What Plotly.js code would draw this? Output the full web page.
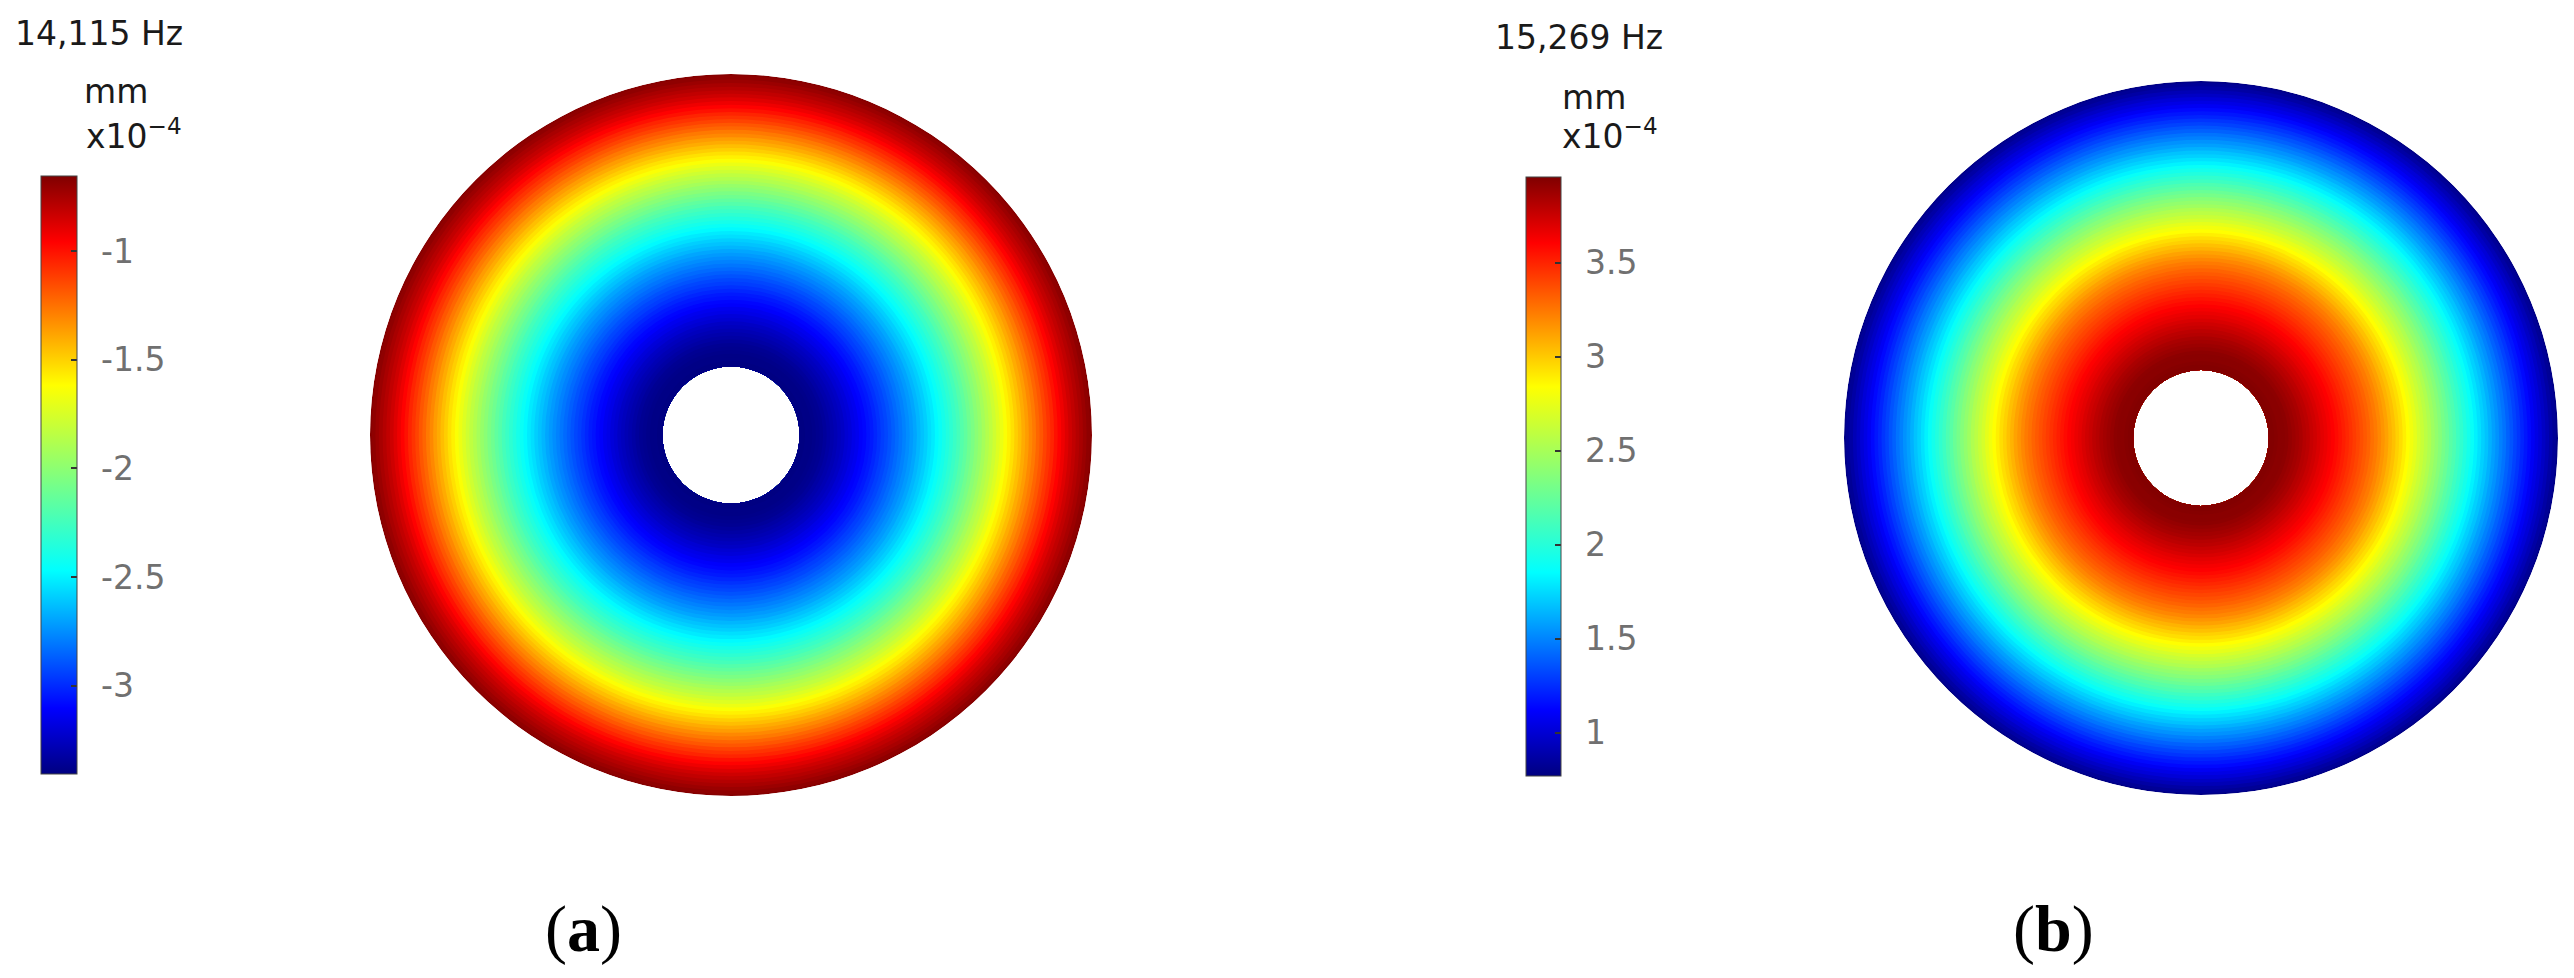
<!DOCTYPE html>
<html>
<head>
<meta charset="utf-8">
<script src="https://cdn.plot.ly/plotly-3.0.1.min.js"></script>
<style>
  html, body { margin: 0; padding: 0; background: #fff; }
  #chart { width: 2574px; height: 978px; }
</style>
</head>
<body>
<div id="chart"></div>
<script>
// Radial positions of the samples (outer edge = 10, hole edge = 1.9)
var holeRadius = 1.9;
var outerRadius = 10;
var radius = [2.0, 2.1, 2.2, 2.3, 2.4, 2.5, 2.6, 2.7, 2.8, 2.9,
              3.0, 3.1, 3.2, 3.3, 3.4, 3.5, 3.6, 3.7, 3.8, 3.9,
              4.0, 4.1, 4.2, 4.3, 4.4, 4.5, 4.6, 4.7, 4.8, 4.9,
              5.0, 5.1, 5.2, 5.3, 5.4, 5.5, 5.6, 5.7, 5.8, 5.9,
              6.0, 6.1, 6.2, 6.3, 6.4, 6.5, 6.6, 6.7, 6.8, 6.9,
              7.0, 7.1, 7.2, 7.3, 7.4, 7.5, 7.6, 7.7, 7.8, 7.9,
              8.0, 8.1, 8.2, 8.3, 8.4, 8.5, 8.6, 8.7, 8.8, 8.9,
              9.0, 9.1, 9.2, 9.3, 9.4, 9.5, 9.6, 9.7, 9.8, 9.9, 10.0];

// Displacement (mm x1e-4) read along the radius
var dispA = [-3.40, -3.39, -3.39, -3.38, -3.37, -3.36, -3.34, -3.32, -3.30, -3.28,
             -3.26, -3.24, -3.21, -3.19, -3.16, -3.14, -3.11, -3.09, -3.06, -3.04,
             -3.01, -2.98, -2.95, -2.93, -2.90, -2.87, -2.84, -2.81, -2.78, -2.75,
             -2.72, -2.69, -2.65, -2.62, -2.59, -2.55, -2.52, -2.48, -2.44, -2.40,
             -2.36, -2.32, -2.28, -2.24, -2.19, -2.15, -2.10, -2.06, -2.01, -1.97,
             -1.92, -1.87, -1.83, -1.78, -1.73, -1.68, -1.63, -1.58, -1.54, -1.49,
             -1.45, -1.40, -1.36, -1.31, -1.27, -1.22, -1.18, -1.13, -1.09, -1.05,
             -1.00, -0.96, -0.92, -0.88, -0.84, -0.81, -0.78, -0.75, -0.72, -0.69, -0.67];
var dispB = [3.95, 3.94, 3.93, 3.93, 3.92, 3.90, 3.88, 3.86, 3.84, 3.81,
             3.79, 3.76, 3.74, 3.71, 3.68, 3.66, 3.63, 3.61, 3.58, 3.55,
             3.52, 3.49, 3.46, 3.43, 3.40, 3.37, 3.34, 3.31, 3.27, 3.24,
             3.20, 3.16, 3.12, 3.07, 3.03, 2.98, 2.94, 2.89, 2.84, 2.79,
             2.74, 2.68, 2.63, 2.58, 2.53, 2.47, 2.42, 2.37, 2.31, 2.26,
             2.20, 2.15, 2.09, 2.04, 1.98, 1.93, 1.88, 1.82, 1.77, 1.72,
             1.68, 1.63, 1.58, 1.54, 1.49, 1.45, 1.40, 1.36, 1.31, 1.27,
             1.22, 1.18, 1.14, 1.09, 1.05, 1.01, 0.96, 0.92, 0.87, 0.83, 0.79];

// colour range of each legend bar
var rangeA = [-3.405, -0.655];
var rangeB = [0.77, 3.957];

var tickValsA = [-3, -2.5, -2, -1.5, -1];
var tickTextA = ['-3', '-2.5', '-2', '-1.5', '-1'];
var tickValsB = [1, 1.5, 2, 2.5, 3, 3.5];
var tickTextB = ['1', '1.5', '2', '2.5', '3', '3.5'];

var freqLabels = ['14,115 Hz', '15,269 Hz'];
var panelLabels = ['(<b>a</b>)', '(<b>b</b>)'];

var W = 2574, H = 978;

var jet = [[0, '#000080'], [0.11, '#0000ff'], [0.34, '#00ffff'],
           [0.65, '#ffff00'], [0.89, '#ff0000'], [1, '#800000']];

// One filled ring per sample; drawn outermost first, each starting at the hole,
// so the next (smaller) one covers it and no seams show.
function ringTrace(values, range, subplot, colorbar) {
    var r = [], base = [], theta = [], color = [];
    for (var i = radius.length - 1; i >= 0; i--) {
        var edge = i < radius.length - 1 ? (radius[i] + radius[i + 1]) / 2 : outerRadius;
        r.push(edge - holeRadius);
        base.push(holeRadius);
        theta.push(0);
        color.push(values[i]);
    }
    return {
        type: 'barpolar',
        subplot: subplot,
        r: r, base: base, theta: theta, width: 360,
        hoverinfo: 'skip',
        marker: {
            color: color, colorscale: jet, cmin: range[0], cmax: range[1],
            line: {width: 0},
            showscale: true,
            colorbar: colorbar
        }
    };
}

// pad the labels with an en space so they clear the inside tick marks
function padded(text) {
    return text.map(function(t) { return '\u2002' + t; });
}

function bar(xLeft, yTop, yBottom, thick, vals, text) {
    return {
        x: xLeft / W, xanchor: 'left', xref: 'paper', xpad: 0,
        y: 1 - (yTop + yBottom) / 2 / H, yanchor: 'middle', ypad: 0,
        len: yBottom - yTop, lenmode: 'pixels',
        thickness: thick, thicknessmode: 'pixels',
        outlinewidth: 1, outlinecolor: '#444',
        tickmode: 'array', tickvals: vals, ticktext: padded(text),
        ticks: 'inside', ticklen: 6, tickwidth: 2, tickcolor: '#333',
        tickfont: {family: 'DejaVu Sans', size: 33, color: '#707070'}
    };
}

function disk(cx, cy, R) {
    return {
        domain: {x: [(cx - R) / W, (cx + R) / W], y: [1 - (cy + R) / H, 1 - (cy - R) / H]},
        bgcolor: 'rgba(0,0,0,0)',
        radialaxis: {visible: false, range: [0, outerRadius]},
        angularaxis: {visible: false}
    };
}

function note(text, x, y, size, color, family, anchor) {
    return {text: text, xref: 'paper', yref: 'paper', x: x / W, y: 1 - y / H,
            xanchor: anchor || 'left', yanchor: 'middle', showarrow: false,
            font: {family: family || 'DejaVu Sans', size: size, color: color}};
}

var data = [
    ringTrace(dispA, rangeA, 'polar', bar(41, 176, 774, 36, tickValsA, tickTextA)),
    ringTrace(dispB, rangeB, 'polar2', bar(1526, 177, 776, 35, tickValsB, tickTextB))
];

var layout = {
    width: W, height: H,
    margin: {l: 0, r: 0, t: 0, b: 0},
    paper_bgcolor: '#fff',
    showlegend: false,
    polar: disk(731, 435, 361),
    polar2: disk(2201, 438, 357),
    annotations: [
        note(freqLabels[0], 13, 33, 33, '#1a1a1a'),
        note('mm', 82, 92, 33, '#1a1a1a'),
        note('x10<sup>\u22124</sup>', 84, 135, 33, '#1a1a1a'),
        note(freqLabels[1], 1493, 38, 33, '#1a1a1a'),
        note('mm', 1560, 97, 33, '#1a1a1a'),
        note('x10<sup>\u22124</sup>', 1560, 135, 33, '#1a1a1a'),
        note(panelLabels[0], 583, 929, 66, '#000', 'Liberation Serif', 'center'),
        note(panelLabels[1], 2053, 929, 66, '#000', 'Liberation Serif', 'center')
    ]
};

Plotly.newPlot('chart', data, layout, {displayModeBar: false, staticPlot: true});
</script>
</body>
</html>
